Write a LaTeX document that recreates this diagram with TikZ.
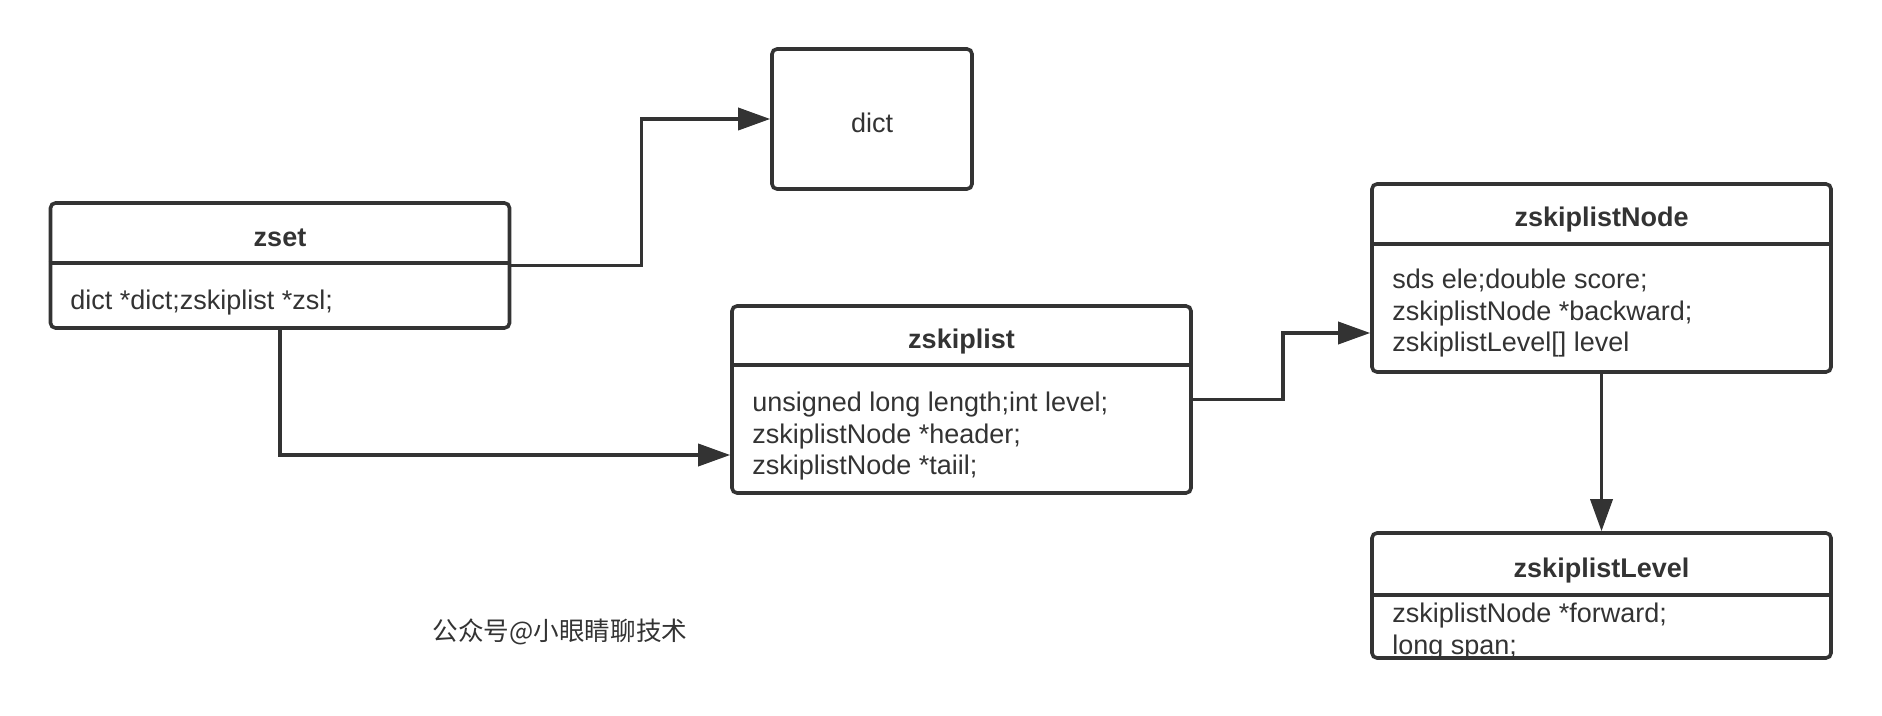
\documentclass[tikz,border=0pt]{standalone}
\usepackage{fontspec}
\setmainfont{Liberation Sans}
\newfontfamily\cjkfont{Noto Sans CJK SC}
\usetikzlibrary{arrows.meta}
\definecolor{linegray}{HTML}{333333}
\tikzset{
  classbox/.style={draw=linegray, line width=1.8pt, rounded corners=2.5pt, inner sep=0pt, minimum width=229.5pt},
  classrule/.style={draw=linegray, line width=1.8pt},
  classtitle/.style={anchor=base, inner sep=0pt, text=linegray, font=\fontsize{13.5pt}{15.75pt}\selectfont\bfseries},
  classbody/.style={anchor=north west, inner sep=0pt, align=left, text=linegray, font=\fontsize{13.5pt}{15.75pt}\selectfont},
  conn/.style={draw=linegray, line width=1.8pt, -{Triangle[length=16pt,width=11pt]}}
}
\begin{document}
\begin{tikzpicture}[x=0.5pt,y=-0.5pt]
  \useasboundingbox (0,0) rectangle (1882,716);

  \node[classbox, minimum height=62.5pt] (zset) at (280,265.5) {};
  \draw[classrule] (zset.west |- 0,263) -- (zset.east |- 0,263);
  \node[classtitle] (zsettitle) at (280,247) {zset};
  \node[classbody] (zsetbody) at (70,290) {dict *dict;zskiplist *zsl;};

  \node[classbox, minimum width=100pt, minimum height=70pt, text=linegray, text height=13.5pt, text depth=0pt,
        font=\fontsize{13.5pt}{15.75pt}\selectfont] (dict) at (872,119) {dict};

  \node[classbox, minimum height=93.5pt] (zsl) at (961.5,399.5) {};
  \draw[classrule] (zsl.west |- 0,365) -- (zsl.east |- 0,365);
  \node[classtitle] (zsltitle) at (961.5,349) {zskiplist};
  \node[classbody] (zslbody) at (752,392) {unsigned long length;int level;\\zskiplistNode *header;\\zskiplistNode *taiil;};

  \node[classbox, minimum height=94pt] (zsln) at (1601.5,278) {};
  \draw[classrule] (zsln.west |- 0,244) -- (zsln.east |- 0,244);
  \node[classtitle] (zslntitle) at (1601.5,227) {zskiplistNode};
  \node[classbody] (zslnbody) at (1392,269) {sds ele;double score;\\zskiplistNode *backward;\\zskiplistLevel[] level};

  \node[classbody] (zsllbody) at (1392,603) {zskiplistNode *forward;\\long span;};
  \node[classbox, minimum height=62.5pt] (zsll) at (1601.5,595.5) {};
  \draw[classrule] (zsll.west |- 0,595) -- (zsll.east |- 0,595);
  \node[classtitle] (zslltitle) at (1601.5,577) {zskiplistLevel};

  \draw[conn] (zset.east) -- ++(130,0) |- (dict.west);
  \draw[conn] (zset.south) |- ([yshift=-27.75pt]zsl.west);
  \draw[conn] (zsl.east) -- ++(90,0) |- ([yshift=-27.5pt]zsln.west);
  \draw[conn] (zsln.south) -- (zsll.north);

  \node[font=\cjkfont\fontsize{12.8pt}{15pt}\selectfont, text=linegray] (mark) at (560,632) {公众号@小眼睛聊技术};
\end{tikzpicture}
\end{document}
